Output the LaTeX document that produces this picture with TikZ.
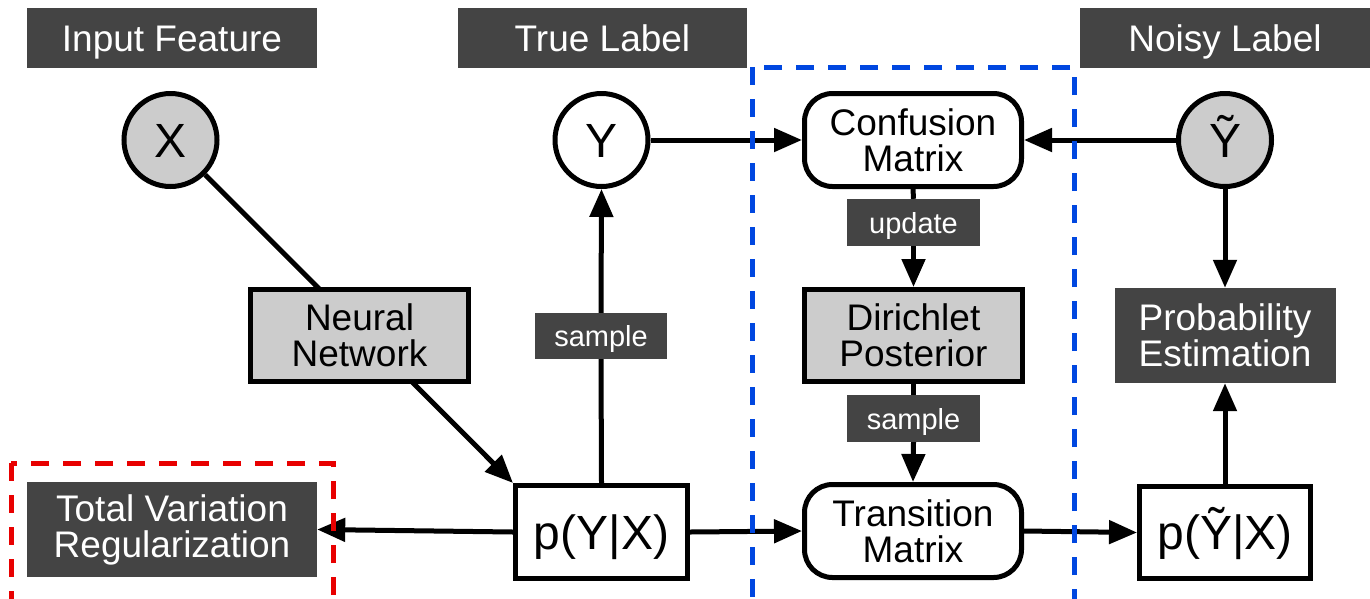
\documentclass[tikz,border=0pt]{standalone}
\usepackage{fontspec}
\setmainfont{Liberation Sans}
\usetikzlibrary{arrows.meta,backgrounds}
\definecolor{dgray}{HTML}{444444}
\definecolor{lgray}{HTML}{CCCCCC}
\definecolor{dblue}{HTML}{0047E0}
\definecolor{dred}{HTML}{E80000}
\tikzset{
  x=1pt,y=-1pt,
  every node/.style={inner sep=0pt,align=center},
  big/.style={font=\fontsize{37}{36}\selectfont},
  headbox/.style={big,fill=dgray,text=white,minimum width=290pt,minimum height=60pt,text height=26.5pt,text depth=0pt},
  darkbox/.style={big,fill=dgray,text=white},
  tagbox/.style={font=\fontsize{29}{30}\selectfont,fill=dgray,text=white,minimum width=133pt,minimum height=47pt,text height=21pt,text depth=0pt},
  varnode/.style={circle,draw=black,line width=5pt,minimum size=93pt,font=\fontsize{48}{50}\selectfont,text height=34pt,text depth=0pt},
  graybox/.style={big,draw=black,fill=lgray,line width=5pt,minimum width=218pt,minimum height=92pt},
  roundbox/.style={big,draw=black,fill=white,line width=5pt,rounded corners=28pt,minimum width=217pt,minimum height=93pt},
  probbox/.style={draw=black,fill=white,line width=5pt,minimum height=93pt,font=\fontsize{48}{50}\selectfont,text height=34pt,text depth=0pt},
  conn/.style={line width=5pt,draw=black},
  arr/.style={conn,-{Triangle[length=28pt,width=23pt]}},
  dashbox/.style={line width=5pt,dash pattern=on 18pt off 14pt},
}
\begin{document}
\begin{tikzpicture}
\useasboundingbox (0,0) rectangle (1370,598);
\clip (0,0) rectangle (1370,598);
% header labels
\node[headbox] (inF) at (172,38) {Input Feature};
\node[headbox,minimum width=289pt] (trueL) at (602.5,38) {True Label};
\node[headbox] (noisyL) at (1225,38) {Noisy Label};
% variables
\node[varnode,fill=lgray] (X) at (170.5,140) {X};
\node[varnode,fill=white] (Y) at (601.5,140) {Y};
\node[varnode,fill=lgray] (Yt) at (1225,140) {Ỹ};
% boxes
\node[graybox] (NN) at (359.5,335.5) {Neural\\Network};
\node[roundbox] (CM) at (913,140) {Confusion\\Matrix};
\node[graybox] (DP) at (913.5,335.5) {Dirichlet\\Posterior};
\node[darkbox,minimum width=221pt,minimum height=95pt] (PE) at (1225,335.5) {Probability\\Estimation};
\node[probbox,minimum width=172pt] (pYX) at (601.5,532) {p(Y|X)};
\node[roundbox] (TM) at (913,531) {Transition\\Matrix};
\node[probbox,minimum width=171pt,minimum height=92pt] (pYtX) at (1225,532.5) {p(Ỹ|X)};
\node[darkbox,minimum width=290pt,minimum height=95pt] (TV) at (172,529.5) {Total Variation\\Regularization};
% tags
\node[tagbox,minimum width=132pt,minimum height=46pt] (s1) at (601,336) {sample};
\node[tagbox] (up) at (913.5,222.5) {update};
\node[tagbox] (s2) at (913.5,418.5) {sample};
% connectors behind nodes
\begin{pgfonlayer}{background}
\draw[arr] (X) -- (pYX.north west);
\draw[conn] (pYX.north) -- (s1.south);
\draw[arr] (s1.north) -- (Y.south);
\draw[conn] (CM.south) -- (up.north);
\draw[arr] (up.south) -- (DP.north);
\draw[conn] (DP.south) -- (s2.north);
\draw[arr] (s2.south) -- (TM.north);
\end{pgfonlayer}
\draw[arr] (Y.east) -- (CM.west);
\draw[arr] (Yt.west) -- (CM.east);
\draw[arr] (Yt.south) -- (PE.north);
\draw[arr] (pYtX.north) -- (PE.south);
\draw[arr] (pYX.west) -- (TV.east);
\draw[arr] (pYX.east) -- (TM.west);
\draw[arr] (TM.east) -- (pYtX.west);
% dashed regions
\draw[dashbox,draw=dblue] (752,67) rectangle (1074,640);
\draw[dashbox,draw=dred] (11,463) rectangle (333,640);
\end{tikzpicture}
\end{document}
